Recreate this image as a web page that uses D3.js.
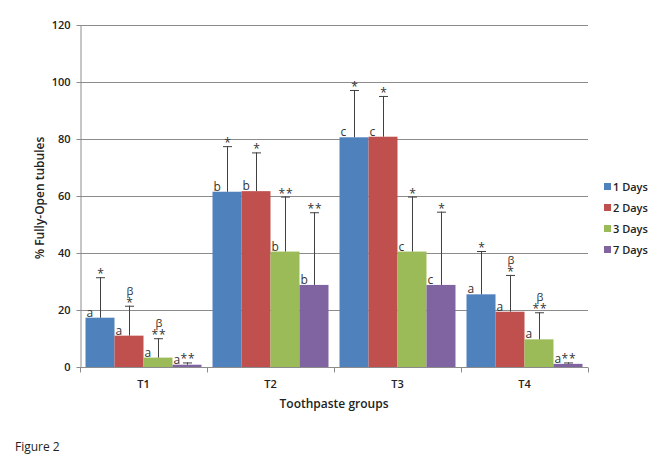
<!DOCTYPE html>
<html><head><meta charset="utf-8">
<script src="https://cdn.jsdelivr.net/npm/d3@7"></script>
<style>body{margin:0;background:#fff}svg{display:block}text{font-family:"Open Sans","Liberation Sans",sans-serif}</style>
</head><body><svg id="c" width="667" height="467"></svg>
<script>
const categories = ["T1","T2","T3","T4"];
const seriesNames = ["1 Days","2 Days","3 Days","7 Days"];
const values = {
  "1 Days":[17.3,61.5,80.6,25.5],
  "2 Days":[11.0,61.7,80.8,19.4],
  "3 Days":[3.3,40.5,40.5,9.7],
  "7 Days":[0.8,28.8,28.8,1.1]
};
const errorTops = {
  "1 Days":[31.5,77.5,97.2,40.7],
  "2 Days":[21.5,75.3,95.1,32.3],
  "3 Days":[10.1,59.8,59.8,19.2],
  "7 Days":[1.6,54.3,54.5,1.6]
};
const letters = {
  "1 Days":["a","b","c","a"],
  "2 Days":["a","b","c","a"],
  "3 Days":["a","b","c","a"],
  "7 Days":["a","b","c","a"]
};
const stars = {
  "1 Days":["*","*","*","*"],
  "2 Days":["*","*","*","*"],
  "3 Days":["**","**","*","**"],
  "7 Days":["**","**","*","**"]
};
const betas = {
  "1 Days":["","","",""],
  "2 Days":["β","","","β"],
  "3 Days":["β","","","β"],
  "7 Days":["","","",""]
};
const colors = ["#4F81BD","#C0504D","#9BBB59","#8064A2"];
const yTicks = [0,20,40,60,80,100,120];

const svg = d3.select("#c");
const m = {l:80, r:588, t:25, b:367};
const x0 = d3.scaleBand().domain(categories).range([m.l, m.r]).paddingInner(0).paddingOuter(0);
const x1 = d3.scaleBand().domain(seriesNames).range([0, x0.bandwidth()]).paddingInner(0).paddingOuter(0.19);
const y = d3.scaleLinear().domain([0,120]).range([m.b, m.t]);
const color = d3.scaleOrdinal().domain(seriesNames).range(colors);

// gridlines
svg.append("g").selectAll("line").data(yTicks.slice(1)).join("line")
  .attr("x1", m.l).attr("x2", m.r).attr("y1", d=>y(d)+0.5).attr("y2", d=>y(d)+0.5)
  .attr("stroke", "#8c8c8c").attr("stroke-width", 1);

// y axis
const ya = svg.append("g").attr("transform", `translate(${m.l+0.5},0)`)
  .call(d3.axisLeft(y).tickValues(yTicks).tickSize(4).tickPadding(6).tickSizeOuter(0));
ya.select(".domain").attr("stroke", "#8c8c8c");
ya.selectAll(".tick line").attr("stroke", "#8c8c8c");
ya.selectAll(".tick text").attr("font-size", 11).attr("font-weight", 600).attr("fill", "#222")
  .attr("font-family", "'Liberation Serif', serif");

// x axis
const xa = svg.append("g").attr("transform", `translate(0,${m.b+0.5})`);
xa.append("line").attr("x1", m.l).attr("x2", m.r).attr("stroke", "#8c8c8c");
const bounds = categories.map(c=>x0(c)).concat([m.r]);
xa.selectAll("line.tk").data(bounds).join("line").attr("class","tk")
  .attr("x1", d=>d+0.5).attr("x2", d=>d+0.5).attr("y1", 0).attr("y2", 5).attr("stroke", "#8c8c8c");
xa.selectAll("text").data(categories).join("text")
  .attr("x", d=>x0(d)+x0.bandwidth()/2).attr("y", 20).attr("text-anchor","middle")
  .attr("font-size", 11).attr("font-weight", 600).attr("fill", "#222").text(d=>d);

// bars
const groups = svg.append("g").selectAll("g").data(categories).join("g")
  .attr("transform", d=>`translate(${x0(d)},0)`);
seriesNames.forEach((s, si) => {
  groups.append("rect")
    .attr("x", (d)=>x1(s)).attr("width", x1.bandwidth())
    .attr("y", (d,i)=>y(values[s][i])).attr("height", (d,i)=>m.b - y(values[s][i]))
    .attr("fill", color(s));
});
// error bars and labels
seriesNames.forEach((s, si) => {
  groups.each(function(d, i){
    const g = d3.select(this);
    const cx = x1(s) + x1.bandwidth()/2;
    const top = y(errorTops[s][i]);
    g.append("line").attr("x1", cx+0.5).attr("x2", cx+0.5).attr("y1", y(values[s][i])).attr("y2", top)
      .attr("stroke", "#404040").attr("stroke-width", 1);
    g.append("line").attr("x1", cx-4).attr("x2", cx+5).attr("y1", top+0.5).attr("y2", top+0.5)
      .attr("stroke", "#404040").attr("stroke-width", 1);
    g.append("text").attr("x", x1(s)+1).attr("y", y(values[s][i])-1)
      .attr("font-size", 12).attr("fill", "#333").text(letters[s][i]);
    g.append("text").attr("x", cx+1).attr("y", top+1).attr("text-anchor","middle")
      .attr("font-size", 12).attr("letter-spacing", 1).attr("fill", "#333").text(stars[s][i]);
    if (betas[s][i]) {
      g.append("text").attr("x", cx+1).attr("y", top-11).attr("text-anchor","middle")
        .attr("font-size", 11).attr("fill", "#333").text(betas[s][i]);
    }
  });
});

// legend
const lg = svg.append("g").selectAll("g").data(seriesNames).join("g")
  .attr("transform", (d,i)=>`translate(604,${183 + i*21})`);
lg.append("rect").attr("width", 7).attr("height", 7).attr("fill", d=>color(d));
lg.append("text").attr("x", 9).attr("y", 7.5).attr("font-size", 11).attr("font-weight", 600)
  .attr("fill", "#222").text(d=>d);

// titles
svg.append("text").attr("transform", "translate(44,198) rotate(-90)").attr("text-anchor","middle")
  .attr("font-size", 12).attr("font-weight", 600).attr("fill", "#222").text("% Fully-Open tubules");
svg.append("text").attr("x", 334).attr("y", 408).attr("text-anchor","middle")
  .attr("font-size", 12).attr("font-weight", 600).attr("fill", "#222").text("Toothpaste groups");
svg.append("text").attr("x", 15).attr("y", 451)
  .attr("font-size", 12).attr("fill", "#222").text("Figure 2");
</script></body></html>
